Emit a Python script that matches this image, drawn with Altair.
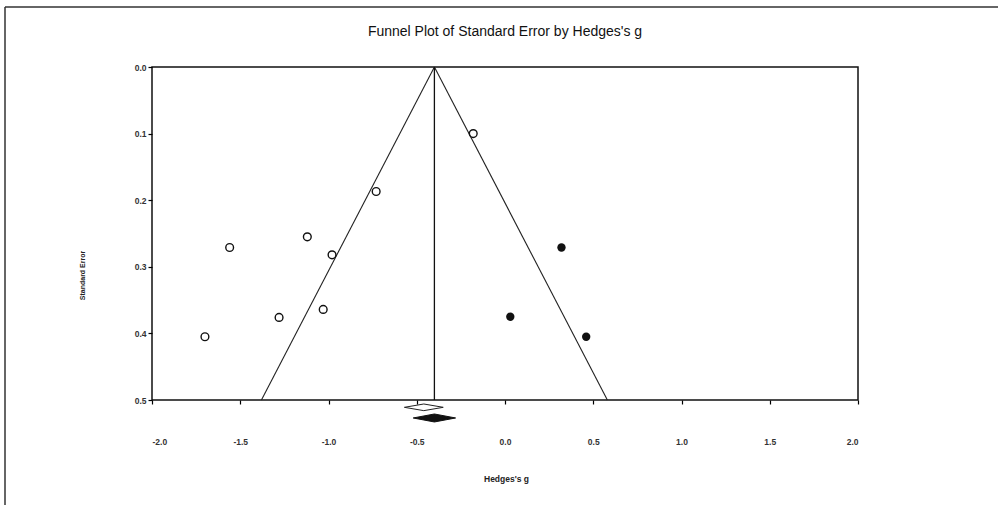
import altair as alt
import pandas as pd

# Observed studies (open circles)
obs_g = [-0.18, -0.73, -1.12, -1.56, -0.98, -1.03, -1.28, -1.70]
obs_se = [0.100, 0.187, 0.255, 0.271, 0.282, 0.364, 0.376, 0.405]

# Imputed studies from trim-and-fill (filled circles)
imp_g = [0.32, 0.03, 0.46]
imp_se = [0.271, 0.375, 0.405]

# Funnel: pooled estimate and 95% limits at SE = 0 and SE = 0.5
center_g = -0.40
funnel_se = [0.0, 0.5]
funnel_left_g = [-0.40, -1.38]
funnel_right_g = [-0.40, 0.58]

# Summary diamonds: (low, mid, high, vertical position in SE units, half height)
obs_diamond = [-0.57, -0.46, -0.35, 0.511, 0.005]
adj_diamond = [-0.52, -0.40, -0.28, 0.527, 0.006]

x_ticks = [-2.0, -1.5, -1.0, -0.5, 0.0, 0.5, 1.0, 1.5, 2.0]
y_ticks = [0.0, 0.1, 0.2, 0.3, 0.4, 0.5]

TITLE = "Funnel Plot of Standard Error by Hedges's g"
FONT = "Liberation Sans"

x_scale = alt.Scale(domain=[-2, 2], nice=False, zero=False)
y_scale = alt.Scale(domain=[0, 0.5], nice=False, zero=False, reverse=True)

x_axis = alt.Axis(
    values=x_ticks,
    labelExpr="(datum.value < 0 ? '-' : '') + format(abs(datum.value), '.1f')",
    grid=False, domain=False, tickColor="black", tickSize=4, tickWidth=1.2,
    labelFont=FONT, labelFontSize=8.5, labelFontWeight="bold", labelColor="#333",
    labelPadding=33,
    title="Hedges's g", titleFont=FONT, titleFontSize=8.5, titleFontWeight="bold",
    titleColor="#222", titleX=354, titleY=78, titleBaseline="middle",
)
y_axis = alt.Axis(
    values=y_ticks, format=".1f",
    grid=False, domain=False, tickColor="black", tickSize=4, tickWidth=1.2,
    labelFont=FONT, labelFontSize=8.5, labelFontWeight="bold", labelColor="#333",
    labelPadding=2,
    title="Standard Error", titleFont=FONT, titleFontSize=7, titleFontWeight="bold",
    titleColor="#222", titleX=-70, titleY=208, titleAngle=270, titleBaseline="middle",
)

obs_df = pd.DataFrame({"g": obs_g, "se": obs_se})
imp_df = pd.DataFrame({"g": imp_g, "se": imp_se})
funnel_df = pd.DataFrame({
    "g": funnel_left_g + funnel_right_g,
    "se": funnel_se + funnel_se,
    "side": ["left", "left", "right", "right"],
})
vline_df = pd.DataFrame({"g": [center_g], "se0": [0.0], "se1": [0.5]})


def diamond_frame(d):
    lo, mid, hi, y, h = d
    return pd.DataFrame({"g": [lo, mid, hi], "y1": [y, y - h, y], "y2": [y, y + h, y]})


base_x = alt.X("g:Q", scale=x_scale, axis=x_axis)
base_y = alt.Y("se:Q", scale=y_scale, axis=y_axis)

funnel = alt.Chart(funnel_df).mark_line(color="#222", strokeWidth=1.1).encode(
    x=base_x, y=base_y, detail="side:N"
)

vline = alt.Chart(vline_df).mark_rule(color="#111", strokeWidth=1.3).encode(
    x=alt.X("g:Q", scale=x_scale), y=alt.Y("se0:Q", scale=y_scale), y2="se1:Q"
)

obs_pts = alt.Chart(obs_df).mark_point(
    shape="circle", filled=False, color="#111", size=60, strokeWidth=1.4, opacity=1
).encode(x=alt.X("g:Q", scale=x_scale), y=alt.Y("se:Q", scale=y_scale))

imp_pts = alt.Chart(imp_df).mark_point(
    shape="circle", filled=True, color="#111", size=70, opacity=1
).encode(x=alt.X("g:Q", scale=x_scale), y=alt.Y("se:Q", scale=y_scale))

obs_dia = alt.Chart(diamond_frame(obs_diamond)).mark_area(
    fill="white", stroke="#222", strokeWidth=1, clip=False
).encode(x=alt.X("g:Q", scale=x_scale), y=alt.Y("y1:Q", scale=y_scale), y2="y2:Q")

adj_dia = alt.Chart(diamond_frame(adj_diamond)).mark_area(
    fill="#111", stroke="#111", strokeWidth=1, clip=False
).encode(x=alt.X("g:Q", scale=x_scale), y=alt.Y("y1:Q", scale=y_scale), y2="y2:Q")

# Chart heading, centred over the plot area
heading = alt.Chart(pd.DataFrame({"t": [TITLE]})).mark_text(
    font=FONT, fontSize=14, color="#111", align="center", baseline="alphabetic"
).encode(x=alt.value(353), y=alt.value(-31), text="t:N")

# Page border lines around the figure
page_top = alt.Chart(pd.DataFrame({"k": [0]})).mark_rule(color="#333", strokeWidth=1.5).encode(
    x=alt.value(-147), x2=alt.value(846), y=alt.value(-60)
)
page_left = alt.Chart(pd.DataFrame({"k": [0]})).mark_rule(color="#333", strokeWidth=1.5).encode(
    x=alt.value(-147), y=alt.value(-60), y2=alt.value(438)
)

chart = alt.layer(
    funnel, vline, obs_pts, imp_pts, obs_dia, adj_dia, heading, page_top, page_left
).properties(
    width=706,
    height=333,
    autosize=alt.AutoSizeParams(type="none"),
    padding={"left": 152, "top": 67, "right": 140, "bottom": 105},
).configure(
    background="white"
).configure_view(
    stroke="#111", strokeWidth=1.5
)

chart.save("out.html", embed_options={"renderer": "svg", "actions": False})
